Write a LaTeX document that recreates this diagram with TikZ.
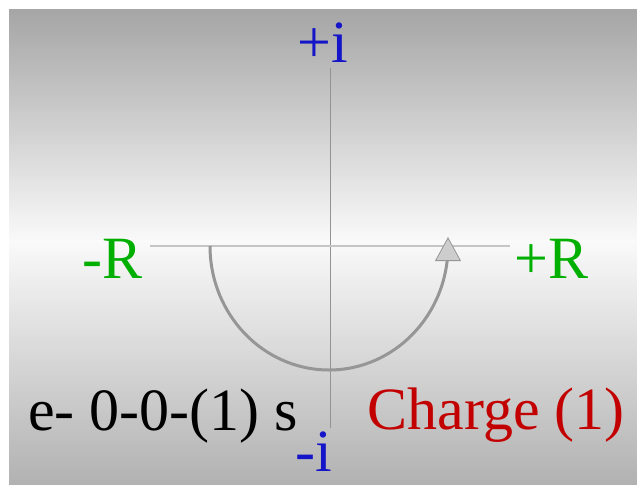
\documentclass[tikz,border=0pt]{standalone}
\usepackage{fontspec}
\setmainfont{Liberation Serif}
\usetikzlibrary{arrows.meta}
\definecolor{axblue}{RGB}{20,20,200}
\definecolor{axgreen}{RGB}{0,175,0}
\definecolor{chred}{RGB}{195,0,0}
\definecolor{arcgray}{RGB}{150,150,150}
\definecolor{tipfill}{RGB}{205,205,205}
\begin{document}
\begin{tikzpicture}[x=1pt,y=-1pt,
  lbl/.style={inner sep=0pt,font=\fontsize{60}{62}\selectfont},
]
\useasboundingbox (0,0) rectangle (639,484);
% background gradient drawn as thin strips
\foreach \yy in {9,12,...,483}{
  \pgfmathtruncatemacro{\vv}{\yy<240 ? 166+(\yy-9)*0.3636 : 250-(\yy-240)*0.2951}
  \fill[color={rgb,255:red,\vv;green,\vv;blue,\vv}] (9,\yy) rectangle (637,\yy+3.3);
}
% axes
\coordinate (vtop) at (330,68);
\coordinate (vbot) at (330,428);
\coordinate (hl) at (150,246);
\coordinate (hr) at (510,246);
\draw[line width=0.9pt,color=gray!85] (vtop) -- (vbot);
\draw[line width=2pt,color=gray!45] (hl) -- (hr);
% semicircle with arrow
\coordinate (astart) at (210,246);
\draw[line width=3pt,color=arcgray,
  -{Triangle[width=26pt,length=24pt,fill=tipfill,line width=0.8pt]}]
  (astart) arc[start angle=180,end angle=0,x radius=119,y radius=124] -- ++(0,-9);
% labels
\node[lbl,text=axblue,anchor=base] (pi) at (323,63) {+i};
\node[lbl,text=axblue,anchor=base] (mi) at (314,471) {-i};
\node[lbl,text=axgreen,anchor=base east] (mr) at (143,278) {-R};
\node[lbl,text=axgreen,anchor=base west] (pr) at (514,278) {+R};
\node[lbl,text=black,anchor=base west] (el) at (28,430) {e- 0-0-(1) s};
\node[lbl,text=chred,anchor=base east] (ch) at (625,429) {Charge (1)};
\end{tikzpicture}
\end{document}
